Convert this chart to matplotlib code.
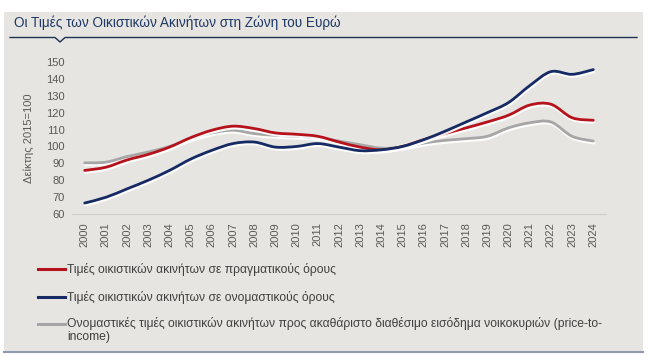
import numpy as np
import matplotlib
matplotlib.use("Agg")
import matplotlib.pyplot as plt
from matplotlib.path import Path
from matplotlib.patches import PathPatch, Rectangle
import matplotlib.patheffects as pe
from matplotlib.lines import Line2D

years = list(range(2000, 2025))
real_prices = [85.8, 87.7, 92.0, 95.3, 99.6, 105.2, 109.6, 112.0, 110.6, 108.0, 107.2, 106.0,
               102.6, 99.6, 98.0, 100.0, 104.0, 107.6, 111.0, 114.5, 118.5, 124.5, 125.0, 117.0, 115.5]
nominal_prices = [66.5, 69.9, 74.9, 80.0, 85.8, 92.5, 97.7, 101.7, 102.6, 99.6, 100.0, 101.7,
                  99.6, 97.5, 98.0, 100.0, 104.0, 109.0, 114.5, 120.0, 126.0, 136.0, 144.3, 142.7, 145.5]
price_to_income = [90.3, 90.7, 94.0, 96.7, 100.0, 104.6, 108.0, 109.6, 107.6, 106.6, 106.0, 105.2,
                   103.2, 101.0, 99.0, 99.6, 102.0, 103.6, 104.6, 106.0, 111.0, 114.0, 114.5, 106.0, 103.2]

labels = ["Τιμές οικιστικών ακινήτων σε πραγματικούς όρους",
          "Τιμές οικιστικών ακινήτων σε ονομαστικούς όρους",
          "Ονομαστικές τιμές οικιστικών ακινήτων προς ακαθάριστο διαθέσιμο εισόδημα νοικοκυριών (price-to-\nincome)"]
colors = ["#b5121b", "#162a63", "#a6a6a6"]
title = "Οι Τιμές των Οικιστικών Ακινήτων στη Ζώνη του Ευρώ"
ylabel = "Δείκτης 2015=100"
yticks = list(range(60, 151, 10))

plt.rcParams["font.family"] = ["Liberation Sans", "DejaVu Sans"]

fig = plt.figure(figsize=(6.63, 3.55), dpi=100)
fig.patch.set_facecolor("white")
W, H = 663, 355

def fx(px):
    return px / W

def fy(py):
    return 1 - py / H

panel_col = "#e6e5e1"
fig.add_artist(Rectangle((fx(4), fy(352)), fx(643) - fx(4), fy(12) - fy(352),
                         transform=fig.transFigure, facecolor=panel_col, edgecolor="none", zorder=0))
fig.add_artist(Line2D([fx(4), fx(643)], [fy(352), fy(352)], transform=fig.transFigure,
                      color="#8e9bb0", lw=1.5, zorder=1))
# title underline with notch
tl_y = fy(37.5)
notch = [fx(10), fx(55), fx(60), fx(65), fx(637)]
notch_y = [tl_y, tl_y, fy(42), tl_y, tl_y]
fig.add_artist(Line2D(notch, notch_y, transform=fig.transFigure, color="#1f3450", lw=1.0, zorder=2))
fig.text(fx(14), fy(23), title, fontsize=9.8, color="#1f3864", va="center", ha="left")

ax = fig.add_axes([fx(72), fy(214), fx(606) - fx(72), fy(62) - fy(214)])
ax.set_facecolor("none")
ax.set_xlim(1999.4, 2024.6)
ax.set_ylim(60, 150)
ax.set_yticks(yticks)
ax.set_xticks(years)
ax.set_xticklabels([str(y) for y in years], rotation=90)
ax.tick_params(axis="both", length=0, labelsize=8, labelcolor="#595959")
ax.tick_params(axis="x", pad=6)
ax.tick_params(axis="y", pad=5)
for s in ["top", "right", "left"]:
    ax.spines[s].set_visible(False)
ax.spines["bottom"].set_color("#d0cfcb")
ax.set_ylabel(ylabel, fontsize=8, color="#595959", labelpad=9)


def smooth_path(xs, ys):
    xs = np.asarray(xs, float)
    ys = np.asarray(ys, float)
    verts = [(xs[0], ys[0])]
    codes = [Path.MOVETO]
    n = len(xs)
    for i in range(n - 1):
        p0 = (xs[max(i - 1, 0)], ys[max(i - 1, 0)])
        p1 = (xs[i], ys[i])
        p2 = (xs[i + 1], ys[i + 1])
        p3 = (xs[min(i + 2, n - 1)], ys[min(i + 2, n - 1)])
        c1 = (p1[0] + (p2[0] - p0[0]) / 6, p1[1] + (p2[1] - p0[1]) / 6)
        c2 = (p2[0] - (p3[0] - p1[0]) / 6, p2[1] - (p3[1] - p1[1]) / 6)
        verts += [c1, c2, p2]
        codes += [Path.CURVE4] * 3
    return Path(verts, codes)

series = [price_to_income, real_prices, nominal_prices]
series_cols = [colors[2], colors[0], colors[1]]
for vals, col in zip(series, series_cols):
    patch = PathPatch(smooth_path(years, vals), facecolor="none", edgecolor=col, lw=2.0,
                      capstyle="round", joinstyle="round", zorder=3)
    patch.set_path_effects([pe.SimpleLineShadow(offset=(0.5, -1.5), shadow_color="#ffffff", alpha=0.9),
                            pe.Normal()])
    ax.add_patch(patch)

# legend
leg_y = [269, 297, 324]
for lab, col, y in zip(labels, colors, leg_y):
    fig.add_artist(Line2D([fx(38), fx(65)], [fy(y), fy(y)], transform=fig.transFigure,
                          color=col, lw=2.2, zorder=3))
    fig.text(fx(67), fy(y - 6.5), lab, fontsize=8.7, color="#404040", va="top", ha="left",
             linespacing=1.05)

fig.savefig("out.png", dpi=100, facecolor="white")
